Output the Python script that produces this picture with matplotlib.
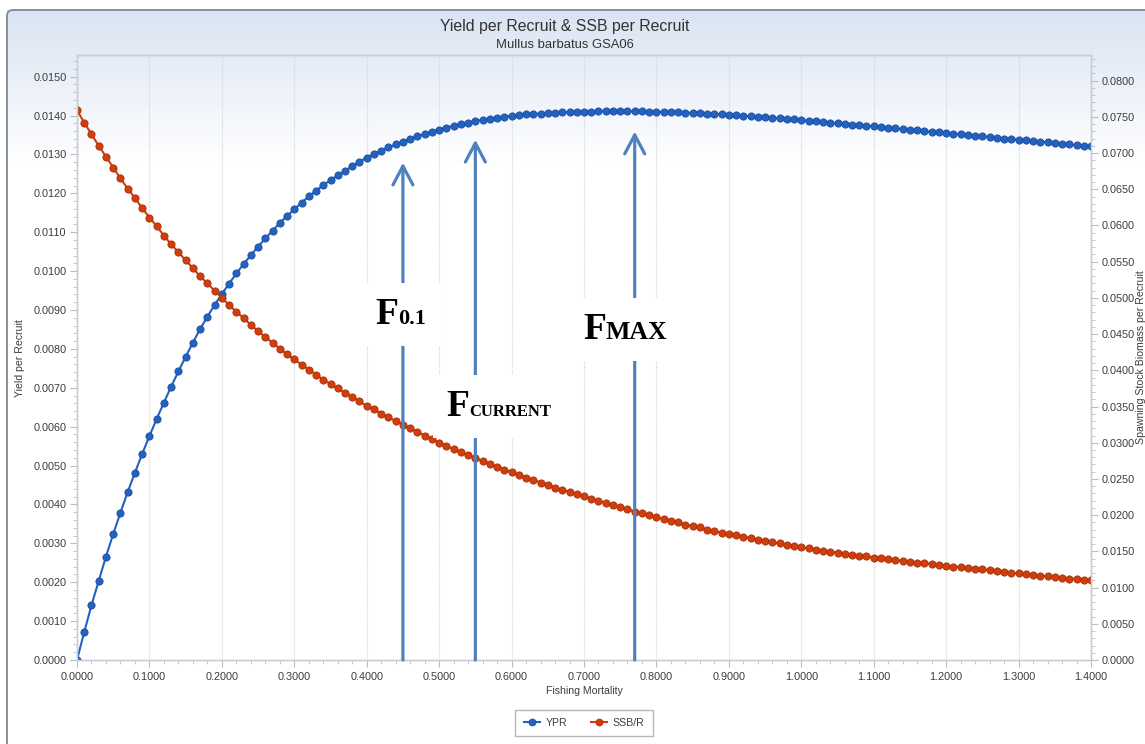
import numpy as np
import matplotlib
matplotlib.use("Agg")
import matplotlib.pyplot as plt
from matplotlib.patches import FancyBboxPatch
from matplotlib.offsetbox import TextArea, HPacker, AnnotationBbox
from matplotlib.ticker import MultipleLocator, FormatStrFormatter

# ---------------- data ----------------
F = np.arange(141) / 100.0   # fishing mortality 0.00 .. 1.40

ypr_e3 = [
    0.00, 0.72, 1.41, 2.04, 2.66, 3.24, 3.79, 4.32, 4.82, 5.30,
    5.76, 6.20, 6.62, 7.03, 7.42, 7.80, 8.16, 8.51, 8.83, 9.13,
    9.41, 9.68, 9.94, 10.18, 10.41, 10.63, 10.84, 11.04, 11.24, 11.42,
    11.59, 11.76, 11.92, 12.07, 12.21, 12.34, 12.46, 12.58, 12.70, 12.81,
    12.92, 13.01, 13.10, 13.18, 13.26, 13.33, 13.40, 13.47, 13.53, 13.59,
    13.64, 13.69, 13.74, 13.78, 13.82, 13.86, 13.89, 13.92, 13.95, 13.97,
    13.99, 14.01, 14.03, 14.04, 14.05, 14.06, 14.07, 14.08, 14.09, 14.09,
    14.10, 14.10, 14.11, 14.11, 14.11, 14.11, 14.11, 14.11, 14.11, 14.10,
    14.10, 14.09, 14.09, 14.08, 14.07, 14.07, 14.06, 14.05, 14.04, 14.03,
    14.02, 14.01, 14.00, 13.98, 13.97, 13.96, 13.94, 13.93, 13.92, 13.90,
    13.88, 13.87, 13.85, 13.84, 13.82, 13.80, 13.79, 13.77, 13.75, 13.74,
    13.72, 13.70, 13.69, 13.67, 13.65, 13.64, 13.62, 13.60, 13.58, 13.57,
    13.55, 13.53, 13.52, 13.50, 13.48, 13.47, 13.45, 13.43, 13.41, 13.40,
    13.38, 13.36, 13.35, 13.33, 13.31, 13.30, 13.28, 13.26, 13.24, 13.23,
    13.21,
]

ssbr_e3 = [
    75.9, 74.2, 72.6, 71.0, 69.5, 68.0, 66.5, 65.1, 63.8, 62.4,
    61.1, 59.9, 58.6, 57.4, 56.3, 55.2, 54.1, 53.0, 52.0, 51.0,
    50.0, 49.0, 48.1, 47.2, 46.3, 45.4, 44.6, 43.8, 43.0, 42.2,
    41.5, 40.8, 40.1, 39.4, 38.7, 38.1, 37.5, 36.9, 36.3, 35.7,
    35.1, 34.6, 34.0, 33.5, 33.0, 32.5, 32.0, 31.5, 31.0, 30.5,
    30.0, 29.6, 29.1, 28.7, 28.3, 27.9, 27.5, 27.1, 26.7, 26.3,
    25.9, 25.6, 25.2, 24.9, 24.5, 24.2, 23.8, 23.5, 23.2, 22.9,
    22.6, 22.3, 22.0, 21.7, 21.4, 21.1, 20.8, 20.5, 20.3, 20.0,
    19.7, 19.5, 19.2, 19.0, 18.7, 18.5, 18.3, 18.0, 17.8, 17.6,
    17.4, 17.2, 17.0, 16.8, 16.6, 16.4, 16.3, 16.1, 15.9, 15.7,
    15.55, 15.4, 15.25, 15.1, 14.95, 14.8, 14.7, 14.55, 14.4, 14.3,
    14.15, 14.05, 13.9, 13.8, 13.7, 13.6, 13.45, 13.35, 13.25, 13.1,
    13.0, 12.9, 12.8, 12.7, 12.6, 12.5, 12.4, 12.3, 12.2, 12.05,
    11.95, 11.85, 11.75, 11.65, 11.55, 11.45, 11.35, 11.25, 11.2, 11.1,
    11.0,
]

ypr = np.array(ypr_e3) / 1000.0
ssbr = np.array(ssbr_e3) / 1000.0

# reference points (F value, YPR level of arrow tip)
ref_F = [0.45, 0.55, 0.77]
ref_tip = [0.01279, 0.01338, 0.01359]
ref_main = ["F", "F", "F"]
ref_sub = ["0.1", "CURRENT", "MAX"]
ref_sub_size = [16, 12.0, 18.5]
ref_label_pos = [(0.447, 0.00889), (0.583, 0.00652), (0.757, 0.00849)]

title = "Yield per Recruit & SSB per Recruit"
subtitle = "Mullus barbatus GSA06"

# ---------------- figure ----------------
W, H = 1145, 744
fig = plt.figure(figsize=(W / 100, H / 100), dpi=100)
fig.patch.set_facecolor("white")
plt.rcParams["font.family"] = ["Liberation Sans", "DejaVu Sans"]

# background panel with gradient
bg = fig.add_axes([0, 0, 1, 1], zorder=-10)
bg.axis("off")
n = 200
top_c = np.array([0.855, 0.893, 0.952])
grad = np.ones((n, 1, 3))
for i in range(n):
    t = min(1.0, i / (n * 0.2))
    grad[i, 0, :] = top_c * (1 - t) + np.array([1.0, 1.0, 1.0]) * t
bg.imshow(grad, extent=(7, W + 20, H + 20, 10), aspect="auto", interpolation="bilinear", zorder=0)
bg.add_patch(FancyBboxPatch((7, 10), W + 30, H + 30,
                            boxstyle="round,pad=0,rounding_size=6",
                            facecolor="none", edgecolor="#7d8893", lw=1.3, zorder=1))
bg.set_xlim(0, W)
bg.set_ylim(H, 0)

ax = fig.add_axes([77 / W, 1 - 660 / H, (1091 - 77) / W, (660 - 55.3) / H])
ax.patch.set_alpha(0)
ax2 = ax.twinx()
ax2.patch.set_alpha(0)

blue = "#2462c2"
blue_e = "#1a4d9e"
red = "#cf3e0c"
red_e = "#a93008"

l1, = ax.plot(F, ypr, "-o", color=blue, mfc=blue, mec=blue_e, mew=0.6, ms=5.2, lw=1.5, zorder=3, label="YPR")
l2, = ax2.plot(F, ssbr, "-o", color=red, mfc=red, mec=red_e, mew=0.6, ms=5.2, lw=1.5, zorder=2, label="SSB/R")

ax.set_xlim(0, 1.4)
ax.set_ylim(0, 0.01555)
ax2.set_ylim(0, 0.0835)

ax.xaxis.set_major_locator(MultipleLocator(0.1))
ax.xaxis.set_minor_locator(MultipleLocator(0.02))
ax.yaxis.set_major_locator(MultipleLocator(0.001))
ax.yaxis.set_minor_locator(MultipleLocator(0.0002))
ax2.yaxis.set_major_locator(MultipleLocator(0.005))
ax2.yaxis.set_minor_locator(MultipleLocator(0.001))
fmt = FormatStrFormatter("%.4f")
ax.xaxis.set_major_formatter(fmt)
ax.yaxis.set_major_formatter(fmt)
ax2.yaxis.set_major_formatter(fmt)

tick_col = "#b7bec6"
lab_col = "#3c3c3c"
for a in (ax, ax2):
    a.tick_params(which="major", length=5, color=tick_col, labelsize=7.8, labelcolor=lab_col, pad=2.5)
    a.tick_params(which="minor", length=3, color=tick_col)
    for s in a.spines.values():
        s.set_color("#c9ced4")
        s.set_linewidth(1.0)
ax.tick_params(axis="x", which="major", pad=3.5)

ax.grid(axis="x", which="major", color="#d2d6db", linestyle=(0, (1, 1)), lw=0.9)
ax.set_axisbelow(True)

ax.set_xlabel("Fishing Mortality", fontsize=7.6, color=lab_col, labelpad=3)
ax.set_ylabel("Yield per Recruit", fontsize=7.6, color=lab_col, labelpad=6)
fig.text(1141 / W, 1 - 357 / H, "Spawning Stock Biomass per Recruit", rotation=90,
         ha="center", va="center", fontsize=7.6, color=lab_col)

fig.text(565 / W, 1 - 26 / H, title, ha="center", va="center", fontsize=11.4, color="#333333")
fig.text(565 / W, 1 - 45 / H, subtitle, ha="center", va="center", fontsize=9.4, color="#333333")

# arrows and labels (drawn in ax2 so they sit above the SSB line)
arrow_col = "#4f81bd"
for fx, tip in zip(ref_F, ref_tip):
    ax2.annotate("", xy=(fx, tip), xycoords=ax.transData,
                 xytext=(fx, 0), textcoords=ax.transData,
                 arrowprops=dict(arrowstyle="->,head_length=0.68,head_width=0.36",
                                 mutation_scale=20, lw=2.3, color=arrow_col,
                                 shrinkA=0, shrinkB=0),
                 zorder=4, annotation_clip=False)

serif = dict(family=["Liberation Serif", "DejaVu Serif"], weight="bold", color="black")
for main, sub, ssize, pos in zip(ref_main, ref_sub, ref_sub_size, ref_label_pos):
    ta1 = TextArea(main, textprops=dict(fontsize=27, **serif))
    ta2 = TextArea(sub, textprops=dict(fontsize=ssize, **serif))
    pack = HPacker(children=[ta1, ta2], align="baseline", pad=0, sep=0)
    ab = AnnotationBbox(pack, pos, xycoords=ax.transData, frameon=True, pad=1.0,
                        box_alignment=(0.5, 0.5),
                        bboxprops=dict(facecolor="white", edgecolor="none"), zorder=5)
    ax2.add_artist(ab)

leg = fig.legend(handles=[l1, l2], loc="center", bbox_to_anchor=(584 / W, 1 - 723 / H),
                 ncol=2, fontsize=7.6, frameon=True, fancybox=False, handlelength=1.6,
                 columnspacing=2.2, borderpad=0.8, handletextpad=0.5, markerscale=0.95)
leg.get_frame().set_edgecolor("#a0a6ad")
leg.get_frame().set_linewidth(1.0)
for t in leg.get_texts():
    t.set_color(lab_col)

fig.savefig("out.png", dpi=100)
